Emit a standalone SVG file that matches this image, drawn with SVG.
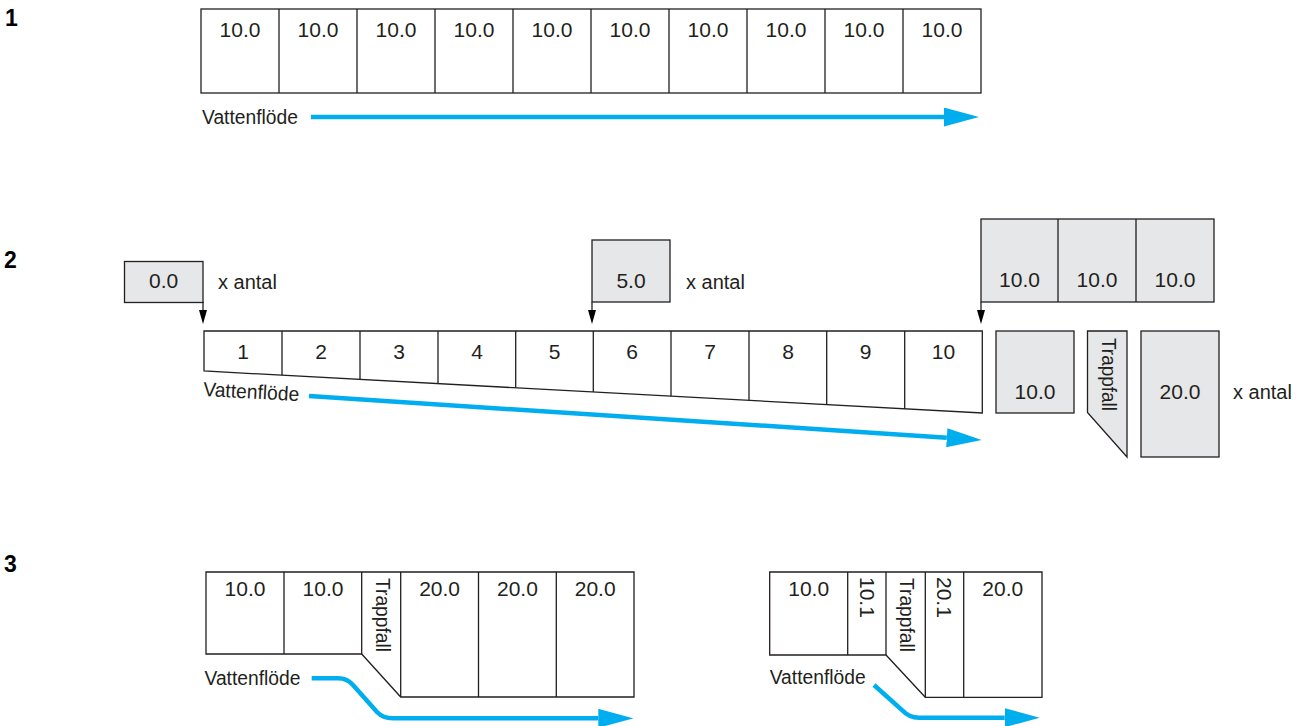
<svg xmlns="http://www.w3.org/2000/svg" width="1300" height="726" viewBox="0 0 1300 726">
<defs>
<style>
.c{fill:#fff;stroke:#231f20;stroke-width:1.3}
.g{fill:#e6e7e8;stroke:#231f20;stroke-width:1.3}
.ln{fill:none;stroke:#231f20;stroke-width:1.3}
.t{font-family:"Liberation Sans",Arial,sans-serif;font-size:21px;fill:#231f20;text-anchor:middle}
.l{font-family:"Liberation Sans",Arial,sans-serif;font-size:20px;fill:#231f20}
.r{font-family:"Liberation Sans",Arial,sans-serif;font-size:20px;fill:#231f20}
.n{font-family:"Liberation Sans",Arial,sans-serif;font-size:23px;font-weight:bold;fill:#000}
.flow{fill:none;stroke:#00aeef;stroke-width:4.5}
.drop{fill:none;stroke:#231f20;stroke-width:1.3}
</style>
<marker id="bh" markerUnits="userSpaceOnUse" markerWidth="35" markerHeight="19" viewBox="0 0 35 19" refX="0" refY="9.5" orient="auto">
<path d="M0,0 L35,9.5 L0,19 Z" fill="#00aeef"/>
</marker>
<marker id="kh" markerUnits="userSpaceOnUse" markerWidth="14" markerHeight="8" viewBox="0 0 14 8" refX="0" refY="4" orient="auto">
<path d="M0,0 L14,4 L0,8 Z" fill="#000"/>
</marker>
</defs>

<g id="labels">
<text class="n" x="5" y="26">1</text>
<text class="n" x="4" y="268">2</text>
<text class="n" x="4" y="572">3</text>
</g>

<!-- Section 1 -->
<g id="s1-row">
<rect class="c" x="201" y="9" width="780" height="84"/>
<path class="ln" d="M279,9V93M357,9V93M435,9V93M513,9V93M591,9V93M669,9V93M747,9V93M825,9V93M903,9V93"/>
<text class="t" x="240" y="36.5">10.0</text>
<text class="t" x="318" y="36.5">10.0</text>
<text class="t" x="396" y="36.5">10.0</text>
<text class="t" x="474" y="36.5">10.0</text>
<text class="t" x="552" y="36.5">10.0</text>
<text class="t" x="630" y="36.5">10.0</text>
<text class="t" x="708" y="36.5">10.0</text>
<text class="t" x="786" y="36.5">10.0</text>
<text class="t" x="864" y="36.5">10.0</text>
<text class="t" x="942" y="36.5">10.0</text>
</g>
<g id="s1-label">
<text class="l" x="202" y="124" textLength="96" lengthAdjust="spacingAndGlyphs">Vattenflöde</text>
</g>

<!-- Section 2 -->
<g id="s2-box00">
<rect class="g" x="124.5" y="261.5" width="78.5" height="41"/>
<text class="t" x="163.7" y="288">0.0</text>
<text class="l" x="218" y="289">x antal</text>
</g>
<g id="s2-box50">
<rect class="g" x="592" y="240" width="78" height="62"/>
<text class="t" x="631" y="288">5.0</text>
<text class="l" x="686" y="289">x antal</text>
</g>
<g id="s2-top">
<rect class="g" x="981" y="219" width="233" height="83"/>
<path class="ln" d="M1058,219V302M1136,219V302"/>
<text class="t" x="1019.5" y="287">10.0</text>
<text class="t" x="1097" y="287">10.0</text>
<text class="t" x="1175" y="287">10.0</text>
</g>
<g id="s2-band">
<path class="c" d="M204,331 H982.3 V413 L204,371 Z"/>
<path class="ln" d="M282,331V375.2M360,331V379.4M438,331V383.6M515.7,331V387.8M593.3,331V392M671,331V396.2M749,331V400.4M826.7,331V404.6M904.7,331V408.8"/>
<text class="t" x="243" y="359">1</text>
<text class="t" x="321" y="359">2</text>
<text class="t" x="399" y="359">3</text>
<text class="t" x="477" y="359">4</text>
<text class="t" x="554.5" y="359">5</text>
<text class="t" x="632" y="359">6</text>
<text class="t" x="710" y="359">7</text>
<text class="t" x="788" y="359">8</text>
<text class="t" x="865.7" y="359">9</text>
<text class="t" x="943.5" y="359">10</text>
</g>
<g id="s2-label">
<text class="l" transform="translate(203,396) rotate(3)" x="0" y="0" textLength="96" lengthAdjust="spacingAndGlyphs">Vattenflöde</text>
</g>
<g id="s2-b10">
<rect class="g" x="996" y="331" width="78" height="82"/>
<text class="t" x="1035" y="399">10.0</text>
</g>
<g id="s2-trappfall">
<path class="g" d="M1087.5,331 H1127 V457 L1087.5,412.5 Z"/>
<text class="r" transform="translate(1107.3,338) rotate(90)" x="0" y="5" textLength="73" lengthAdjust="spacingAndGlyphs">Trappfall</text>
</g>
<g id="s2-b20">
<rect class="g" x="1141" y="331" width="78" height="126"/>
<text class="t" x="1180" y="399">20.0</text>
<text class="l" x="1233" y="399">x antal</text>
</g>

<!-- Section 3 left -->
<g id="s3a">
<path class="c" d="M206,572 H634 V697 H400.7 L361.7,654 H206 Z"/>
<path class="ln" d="M284,572V654M361.7,572V654M400.7,572V697M478.5,572V697M556.3,572V697"/>
<text class="t" x="245" y="596">10.0</text>
<text class="t" x="323" y="596">10.0</text>
<text class="r" transform="translate(381.3,578) rotate(90)" x="0" y="5" textLength="74" lengthAdjust="spacingAndGlyphs">Trappfall</text>
<text class="t" x="439.6" y="596">20.0</text>
<text class="t" x="517.4" y="596">20.0</text>
<text class="t" x="595.2" y="596">20.0</text>
</g>
<g id="s3a-label">
<text class="l" x="204.5" y="685" textLength="96" lengthAdjust="spacingAndGlyphs">Vattenflöde</text>
</g>

<!-- Section 3 right -->
<g id="s3b">
<path class="c" d="M769.7,572 H1042 V697.3 H925.3 L886,655 H769.7 Z"/>
<path class="ln" d="M847.7,572V655M886,572V655M925.3,572V697.3M963.7,572V697.3"/>
<text class="t" x="808.7" y="596">10.0</text>
<text class="t" transform="translate(867.5,577) rotate(90)" x="0" y="7.5" style="text-anchor:start">10.1</text>
<text class="r" transform="translate(904.5,578) rotate(90)" x="0" y="5" textLength="74" lengthAdjust="spacingAndGlyphs">Trappfall</text>
<text class="t" transform="translate(944.3,577) rotate(90)" x="0" y="7.5" style="text-anchor:start">20.1</text>
<text class="t" x="1002.8" y="596">20.0</text>
</g>
<g id="s3b-label">
<text class="l" x="769.7" y="684" textLength="96" lengthAdjust="spacingAndGlyphs">Vattenflöde</text>
</g>

<g id="connectors">
<path class="flow" d="M311,117 H944" marker-end="url(#bh)"/>
<path class="flow" d="M309,396 L946.8,437.7" marker-end="url(#bh)"/>
<path class="flow" d="M311.7,678.3 H338 Q347,678.3 353,685 L377,712 Q383,718.3 393,718.3 H598.3" marker-end="url(#bh)"/>
<path class="flow" d="M874,685 L902,710 Q909,717.7 919,717.7 H1004.7" marker-end="url(#bh)"/>
<path class="drop" d="M203,302 V310" marker-end="url(#kh)"/>
<path class="drop" d="M592,302 V310" marker-end="url(#kh)"/>
<path class="drop" d="M981,302 V310" marker-end="url(#kh)"/>
</g>
</svg>
